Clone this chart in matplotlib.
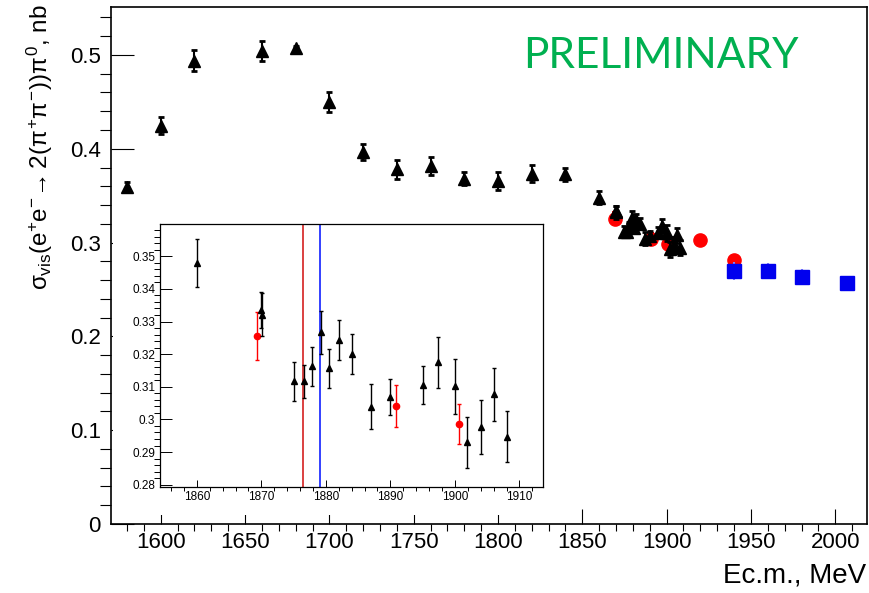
"""
Visible cross section of e+e- -> 2(pi+pi-)pi0 with a zoomed inset
around the nucleon-antinucleon threshold
"""

import matplotlib
matplotlib.use('Agg')
import matplotlib.pyplot as plt
from matplotlib.ticker import MultipleLocator, FuncFormatter

plt.rcParams['font.family'] = ['Liberation Sans', 'DejaVu Sans']
plt.rcParams['mathtext.fontset'] = 'custom'
plt.rcParams['mathtext.rm'] = 'Liberation Sans'
plt.rcParams['mathtext.it'] = 'Liberation Sans'
plt.rcParams['mathtext.fallback'] = 'stixsans'

# Scan points below 1850 MeV (black triangles)
low_E = [1580, 1600, 1620, 1660, 1680, 1700, 1720, 1740, 1760, 1780, 1800, 1820, 1840]
low_sig = [0.359, 0.4245, 0.494, 0.504, 0.507, 0.450, 0.3966, 0.378, 0.3817,
           0.368, 0.3654, 0.3736, 0.373]
low_err = [0.0053, 0.0092, 0.011, 0.0106, 0.003, 0.0106, 0.0083, 0.0098, 0.0098,
           0.007, 0.0094, 0.0094, 0.007]

# Threshold scan points (black triangles, also shown in the inset)
thr_E = [1860.0, 1870.0, 1870.1, 1875.0, 1876.6, 1877.8, 1879.2, 1880.5, 1882.0,
         1884.0, 1887.0, 1890.0, 1895.1, 1897.4, 1900.0, 1901.9, 1904.1, 1906.0, 1908.0]
thr_sig = [0.3479, 0.3335, 0.3321, 0.3117, 0.3117, 0.3163, 0.3267, 0.3157, 0.3243,
           0.3201, 0.3039, 0.3070, 0.3105, 0.3175, 0.3102, 0.2930, 0.2976, 0.3077, 0.2947]
thr_err = [0.0073, 0.0056, 0.0065, 0.0059, 0.0051, 0.0059, 0.0066, 0.0060, 0.0062,
           0.0061, 0.0069, 0.0055, 0.0059, 0.0078, 0.0084, 0.0079, 0.0083, 0.0081, 0.0078]

# Red circles
red_E = [1869.4, 1890.9, 1900.65, 1920.0, 1940.0]
red_sig = [0.3256, 0.3041, 0.2986, 0.3032, 0.2809]
red_err = [0.0073, 0.0064, 0.0062, 0.005, 0.005]

# Blue squares
blue_E = [1940, 1960, 1980, 2007]
blue_sig = [0.2699, 0.2702, 0.2638, 0.2564]
blue_err = [0.0098, 0.0081, 0.0080, 0.0060]

# Threshold markers in the inset
thr_lines = [1876.5, 1879.1]
thr_line_colors = ['#d42020', '#1020ff']


def fmt_g(v, pos):
    return '%g' % round(v, 4)


fig = plt.figure(figsize=(8.7, 5.93), dpi=100)

# Main plot
ax = fig.add_axes([0.1272, 0.1164, 0.8697, 0.8713])
ax.errorbar(red_E, red_sig, yerr=red_err, fmt='o', color='red', ms=9.5,
            elinewidth=1.5, capsize=2, capthick=1.5, zorder=2)
ax.errorbar(low_E + thr_E, low_sig + thr_sig, yerr=low_err + thr_err, fmt='^',
            color='black', ms=8.5, elinewidth=1.5, capsize=2.2, capthick=2, zorder=3)
ax.errorbar(blue_E, blue_sig, yerr=blue_err, fmt='s', color='#0000ee', ecolor='#8080ff',
            ms=10, elinewidth=1.5, capsize=0, zorder=4)

ax.set_xlim(1570.3, 2019)
ax.set_ylim(0, 0.5508)
ax.xaxis.set_major_locator(MultipleLocator(50))
ax.xaxis.set_minor_locator(MultipleLocator(10))
ax.yaxis.set_major_locator(MultipleLocator(0.1))
ax.yaxis.set_minor_locator(MultipleLocator(0.02))
ax.yaxis.set_major_formatter(FuncFormatter(fmt_g))
ax.tick_params(direction='in', top=False, right=False, labelsize=16, width=0.8)
ax.tick_params(axis='y', which='major', length=16.3, pad=7)
ax.tick_params(axis='y', which='minor', length=8, width=0.8)
ax.tick_params(axis='x', which='major', length=10.8, pad=6)
ax.tick_params(axis='x', which='minor', length=5, width=0.8)
for s in ax.spines.values():
    s.set_linewidth(1.2)

fig.text(40 / 870, 1 - 4 / 593,
         r'$\sigma_{\rm vis}({\rm e}^{+}{\rm e}^{-}\!\rightarrow 2(\pi^{+}\pi^{-}))\pi^{0}$, nb',
         rotation=90, ha='center', va='top', fontsize=17.5)
fig.text(866 / 870, 1 - 576 / 593, 'Ec.m., MeV', ha='right', va='center', fontsize=20)
fig.text(661 / 870, 1 - 56 / 593, 'PRELIMINARY', ha='center', va='center',
         fontsize=30.5, color='#00b050', family=['Lato', 'DejaVu Sans'])

# White pad behind the inset
pad = fig.add_axes([0.1299, 0.1315, 0.4988, 0.4975], zorder=5)
pad.set_facecolor('white')
pad.set_xticks([])
pad.set_yticks([])
for s in pad.spines.values():
    s.set_visible(False)

# Inset
ins = fig.add_axes([0.1839, 0.1793, 0.4399, 0.4425], zorder=6)
for xv, c in zip(thr_lines, thr_line_colors):
    ins.axvline(xv, color=c, lw=1.2, zorder=1)
ins.errorbar(red_E, red_sig, yerr=red_err, fmt='o', color='red', ms=4.5,
             elinewidth=1, capsize=1.5, capthick=1, zorder=2)
ins.errorbar(thr_E, thr_sig, yerr=thr_err, fmt='^', color='black', ms=5,
             elinewidth=1, capsize=1.5, capthick=1, zorder=3)
ins.set_xlim(1854.3, 1913.6)
ins.set_ylim(0.2794, 0.3598)
ins.xaxis.set_major_locator(MultipleLocator(10))
ins.xaxis.set_minor_locator(MultipleLocator(2))
ins.yaxis.set_major_locator(MultipleLocator(0.01))
ins.yaxis.set_minor_locator(MultipleLocator(0.002))
ins.yaxis.set_major_formatter(FuncFormatter(fmt_g))
ins.tick_params(direction='in', top=False, right=False, labelsize=8.5, width=0.7)
ins.tick_params(axis='y', which='major', length=8.4, pad=3.5)
ins.tick_params(axis='y', which='minor', length=4.3, width=0.7)
ins.tick_params(axis='x', which='major', length=5, pad=3)
ins.tick_params(axis='x', which='minor', length=3, width=0.7)
for s in ins.spines.values():
    s.set_linewidth(0.9)

fig.savefig('out.png', dpi=100)
